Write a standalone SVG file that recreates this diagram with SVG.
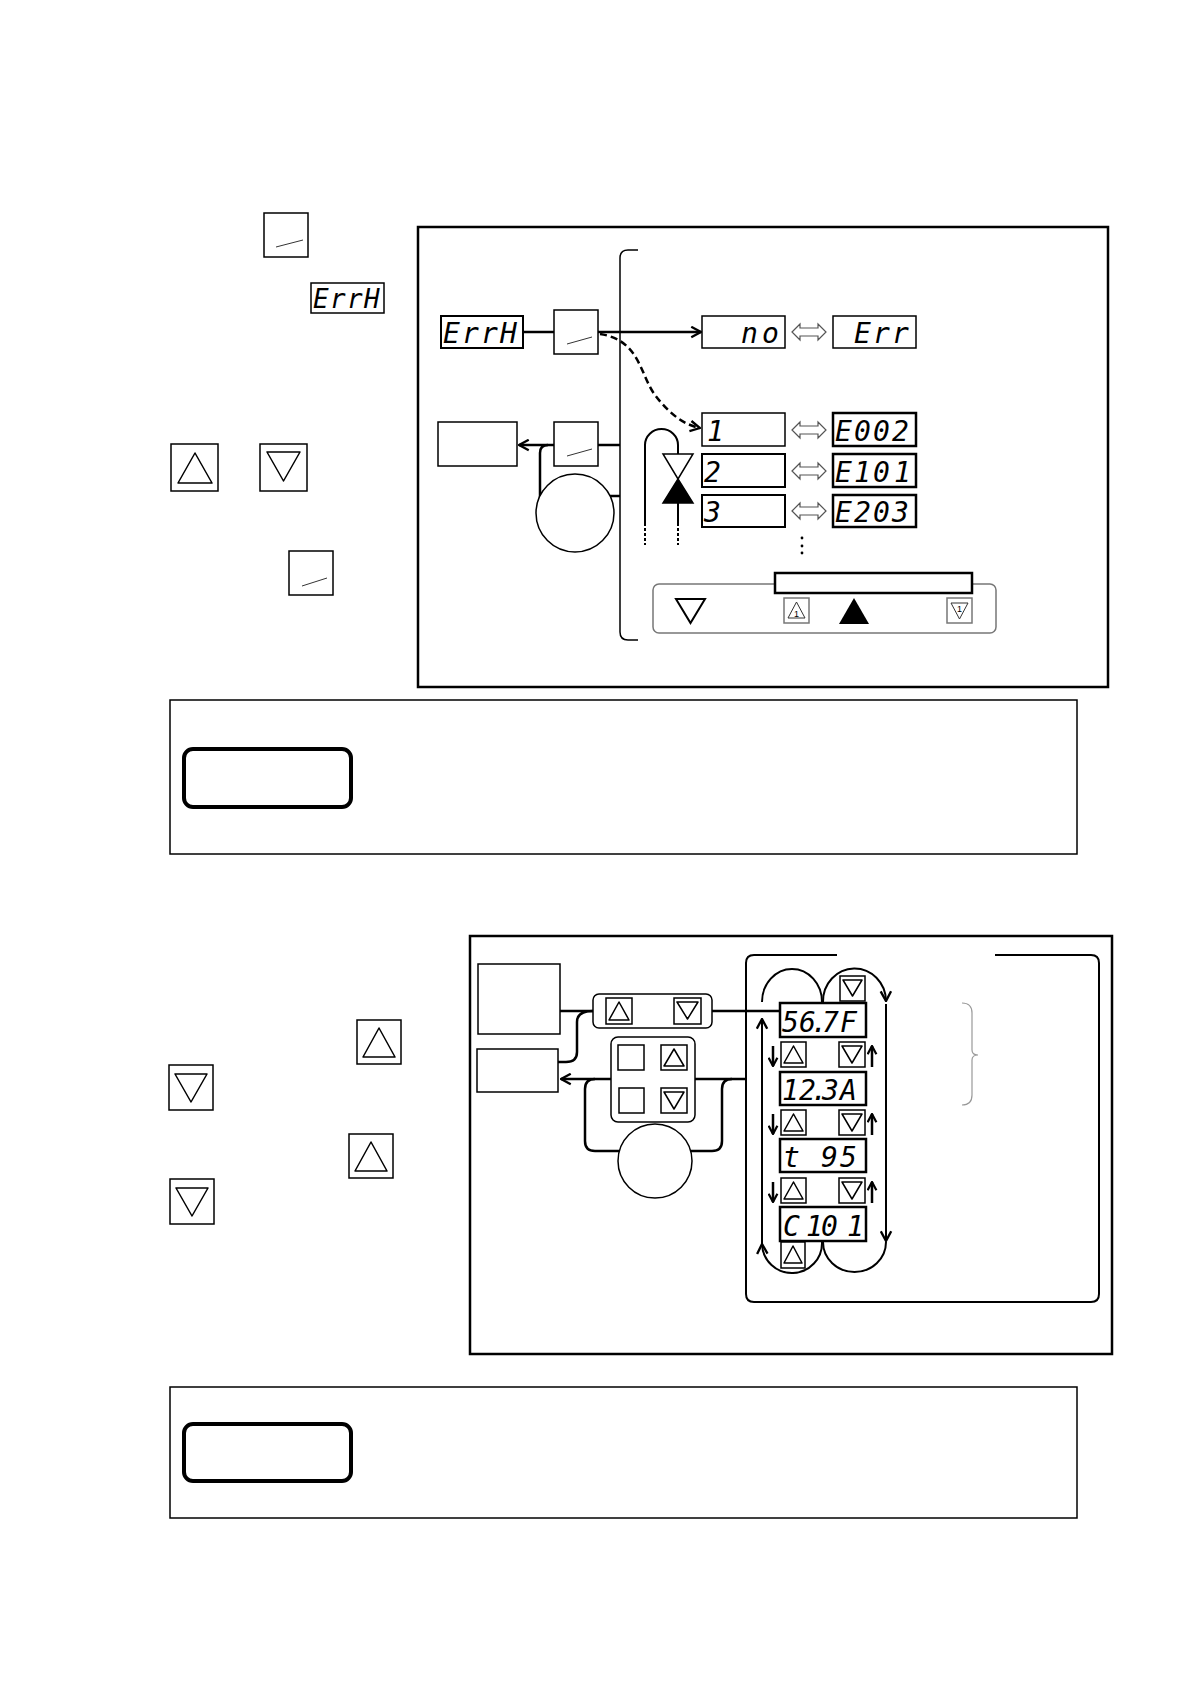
<svg xmlns="http://www.w3.org/2000/svg" width="1190" height="1684" viewBox="0 0 1190 1684">
<style>
.frame{fill:none;stroke:#000;stroke-width:2.5}
.box{fill:#fff;stroke:#000;stroke-width:1.5}
.disp{fill:#fff;stroke:#000;stroke-width:2.5}
.thin{fill:#fff;stroke:#000;stroke-width:1.5}
.gbox{fill:#fff;stroke:#777;stroke-width:1.5}
.ln{fill:none;stroke:#000;stroke-width:2.5}
.ln2{fill:none;stroke:#000;stroke-width:2}
.ln3{fill:none;stroke:#000;stroke-width:2.5}
.tri{fill:#fff;stroke:#000;stroke-width:1.5;stroke-linejoin:round}
.slash{stroke:#000;stroke-width:0.8}
.seg{font-family:"DejaVu Sans Mono","Liberation Mono",monospace;font-style:oblique;font-size:28px;fill:#000}
.note{fill:none;stroke:#000;stroke-width:1.5}
.tag{fill:#fff;stroke:#000;stroke-width:4}
.dbl{fill:#fff;stroke:#555;stroke-width:1.2;stroke-linejoin:miter}
.small{font-family:"Liberation Sans",Arial,sans-serif;font-size:9px;fill:#000}
</style>
<defs>
<marker id="arr" viewBox="0 0 10 10" refX="9" refY="5" markerWidth="13" markerHeight="13" markerUnits="userSpaceOnUse" orient="auto">
<path d="M1.5,1 L9,5 L1.5,9" fill="none" stroke="#000" stroke-width="1.8"/>
</marker>
<marker id="arr2" viewBox="0 0 10 10" refX="9" refY="5" markerWidth="11" markerHeight="11" markerUnits="userSpaceOnUse" orient="auto">
<path d="M1.5,1 L9,5 L1.5,9" fill="none" stroke="#000" stroke-width="2"/>
</marker>
<polygon id="dblarrow" class="dbl" points="0,0 8,-8 8,-4 26,-4 26,-8 34,0 26,8 26,4 8,4 8,8"/>
</defs>
<rect width="1190" height="1684" fill="#fff"/>

<!-- Section 1 left column -->
<g id="s1-key-set-top">
<rect class="box" x="264" y="213" width="44" height="44"/>
<line class="slash" x1="276" y1="247" x2="303" y2="240"/>
</g>
<g id="s1-errh-small">
<rect class="box" x="311" y="283" width="73" height="30"/>
<text class="seg" style="font-size:26px" x="313 330 347 364" y="308">ErrH</text>
</g>
<g id="s1-key-up">
<rect class="box" x="171" y="444" width="47" height="47"/>
<polygon class="tri" points="195,453 212,483 178,483"/>
</g>
<g id="s1-key-down">
<rect class="box" x="260" y="444" width="47" height="47"/>
<polygon class="tri" points="267,452 300,452 283.5,481"/>
</g>
<g id="s1-key-set-bottom">
<rect class="box" x="289" y="551" width="44" height="44"/>
<line class="slash" x1="302" y1="586" x2="327" y2="578"/>
</g>

<!-- Section 1 frame -->
<rect class="frame" x="418" y="227" width="690" height="460"/>

<g id="connectors-s1">
<path class="ln" d="M523 332 L554 332"/>
<path class="ln" d="M598 332 L701 332" marker-end="url(#arr)"/>
<path class="ln" stroke-dasharray="7,4" d="M600 334 C640 340 640 375 655 395 S685 425 700 428" marker-end="url(#arr)"/>
<path class="ln" d="M554 445 L519 445" marker-end="url(#arr)"/>
<path class="ln" d="M548 445 Q540 445 540 453 L540 497"/>
<path class="ln" d="M598 445 L620 445"/>
<path class="ln" d="M609 496 L620 496"/>
<path fill="none" stroke="#000" stroke-width="1.5" d="M638 250 L628 250 Q620 250 620 258 L620 632 Q620 640 628 640 L638 640"/>
<path class="ln2" d="M645 523 L645 445 A16.5 16 0 0 1 678 445 L678 454"/>
<path class="ln2" d="M678 503 L678 523"/>
<path class="ln2" stroke-dasharray="3,2" d="M645 523 L645 545 M678 523 L678 545"/>
</g>

<g id="s1-errh">
<rect x="441" y="316" width="82" height="32" fill="#fff" stroke="#000" stroke-width="2"/>
<text class="seg" x="443 462 481 500" y="343">ErrH</text>
</g>
<g id="s1-key-set">
<rect class="box" x="554" y="310" width="44" height="44"/>
<line class="slash" x1="567" y1="344" x2="592" y2="337"/>
</g>
<g id="s1-box-left">
<rect class="box" x="438" y="422" width="79" height="44"/>
</g>
<g id="s1-key-set2">
<rect class="box" x="554" y="422" width="44" height="44"/>
<line class="slash" x1="567" y1="456" x2="592" y2="449"/>
</g>
<g id="s1-circle">
<circle class="box" cx="575" cy="513" r="39"/>
</g>
<g id="s1-hourglass">
<polygon points="663,454 693,454 678,479" fill="#fff" stroke="#000" stroke-width="1.5"/>
<polygon points="678,479 693,503 663,503" fill="#000" stroke="#000" stroke-width="1.5"/>
</g>

<g id="s1-no">
<rect class="thin" x="702" y="316" width="83" height="32"/>
<text class="seg" x="741 762" y="343">no</text>
</g>
<use href="#dblarrow" x="792" y="332"/>
<g id="s1-err">
<rect class="thin" x="833" y="316" width="83" height="32"/>
<text class="seg" x="854 873 892" y="343">Err</text>
</g>

<g id="s1-row1">
<rect class="thin" x="702" y="413" width="83" height="33"/>
<text class="seg" x="707" y="441">1</text>
</g>
<use href="#dblarrow" x="792" y="430"/>
<g id="s1-e002">
<rect class="disp" x="833" y="413" width="83" height="33"/>
<text class="seg" x="835 854 873 892" y="441">E002</text>
</g>
<g id="s1-row2">
<rect x="702" y="454" width="83" height="33" fill="#fff" stroke="#000" stroke-width="2"/>
<text class="seg" x="704" y="482">2</text>
</g>
<use href="#dblarrow" x="792" y="471"/>
<g id="s1-e101">
<rect class="disp" x="833" y="454" width="83" height="33"/>
<text class="seg" x="835 854 873 894" y="482">E101</text>
</g>
<g id="s1-row3">
<rect x="702" y="495" width="83" height="32" fill="#fff" stroke="#000" stroke-width="2"/>
<text class="seg" x="704" y="522">3</text>
</g>
<use href="#dblarrow" x="792" y="511"/>
<g id="s1-e203">
<rect class="disp" x="833" y="495" width="83" height="32"/>
<text class="seg" x="835 854 873 892" y="522">E203</text>
</g>
<g id="s1-dots" fill="#000">
<circle cx="802" cy="538" r="1.4"/>
<circle cx="802" cy="546" r="1.4"/>
<circle cx="802" cy="553" r="1.4"/>
</g>

<g id="s1-panel">
<rect x="653" y="584" width="343" height="49" rx="6" fill="#fff" stroke="#777" stroke-width="1.5"/>
<rect x="775" y="573" width="197" height="20" fill="#fff" stroke="#000" stroke-width="2.5"/>
<polygon points="676,599 705,599 690.5,623" fill="#fff" stroke="#000" stroke-width="2" stroke-linejoin="miter"/>
<rect class="gbox" x="784" y="598" width="25" height="25"/>
<polygon points="796.5,602 805,618 788,618" fill="#fff" stroke="#333" stroke-width="1"/>
<text class="small" x="796.5" y="616.5" text-anchor="middle">1</text>
<polygon points="854,598 869,624 839,624" fill="#000"/>
<rect class="gbox" x="947" y="598" width="25" height="25"/>
<polygon points="951,603 968,603 959.5,619" fill="#fff" stroke="#333" stroke-width="1"/>
<text class="small" x="959.5" y="612" text-anchor="middle">1</text>
</g>

<!-- Note 1 -->
<g id="note1">
<rect class="note" x="170" y="700" width="907" height="154"/>
<rect class="tag" x="184" y="749" width="167" height="58" rx="9"/>
</g>

<!-- Section 2 left keys -->
<g id="s2-key-up1">
<rect class="box" x="357" y="1020" width="44" height="44"/>
<polygon class="tri" points="379,1028 395,1057 363,1057"/>
</g>
<g id="s2-key-down1">
<rect class="box" x="169" y="1065" width="44" height="45"/>
<polygon class="tri" points="175,1074 207,1074 191,1102"/>
</g>
<g id="s2-key-up2">
<rect class="box" x="349" y="1134" width="44" height="44"/>
<polygon class="tri" points="371,1142 387,1171 355,1171"/>
</g>
<g id="s2-key-down2">
<rect class="box" x="170" y="1179" width="44" height="45"/>
<polygon class="tri" points="176,1188 208,1188 192,1216"/>
</g>

<!-- Section 2 frame -->
<rect class="frame" x="470" y="936" width="642" height="418"/>
<path fill="none" stroke="#000" stroke-width="2" d="M837 955 L754 955 Q746 955 746 963 L746 1294 Q746 1302 754 1302 L1091 1302 Q1099 1302 1099 1294 L1099 963 Q1099 955 1091 955 L995 955"/>
<path id="brace" fill="none" stroke="#999" stroke-width="1.2" d="M962 1003 Q972 1003 972 1013 L972 1050 Q972 1055 978 1055 Q972 1055 972 1060 L972 1095 Q972 1105 962 1105"/>

<g id="connectors-s2">
<path class="ln" d="M560 1011 L593 1011"/>
<path class="ln" d="M712 1011 L780 1011"/>
<path class="ln" d="M593 1011 Q577 1011 577 1022 L577 1052 Q577 1062 566 1062 L558 1062"/>
<path class="ln" d="M611 1079 L561 1079" marker-end="url(#arr)"/>
<path class="ln" d="M595 1079 Q585 1079 585 1089 L585 1141 Q585 1151 595 1151 L620 1151"/>
<path class="ln" d="M695 1079 L747 1079"/>
<path class="ln" d="M690 1151 L712 1151 Q722 1151 722 1141 L722 1089 Q722 1079 732 1079"/>
<path class="ln2" d="M762 1002 A30 33 0 0 1 822 1002"/>
<path class="ln2" d="M823 1002 A31.5 33 0 0 1 886 1001" marker-end="url(#arr)"/>
<path class="ln2" d="M886 1004 L886 1241" marker-end="url(#arr)"/>
<path class="ln2" d="M886 1242 A31.5 30 0 0 1 823 1242"/>
<path class="ln2" d="M822 1242 A30 30 0 0 1 762 1244" marker-end="url(#arr)"/>
<path class="ln2" d="M762 1246 L762 1019" marker-end="url(#arr)"/>
<path class="ln3" d="M773 1046 L773 1066" marker-end="url(#arr2)"/>
<path class="ln3" d="M872 1067 L872 1046" marker-end="url(#arr2)"/>
<path class="ln3" d="M773 1114 L773 1134" marker-end="url(#arr2)"/>
<path class="ln3" d="M872 1135 L872 1114" marker-end="url(#arr2)"/>
<path class="ln3" d="M773 1182 L773 1202" marker-end="url(#arr2)"/>
<path class="ln3" d="M872 1203 L872 1182" marker-end="url(#arr2)"/>
</g>

<g id="s2-box-a"><rect class="box" x="478" y="964" width="82" height="70"/></g>
<g id="s2-box-b"><rect class="box" x="477" y="1049" width="81" height="43"/></g>
<g id="s2-panel1">
<rect class="box" x="593" y="994" width="119" height="34" rx="6"/>
<rect class="box" x="606" y="998" width="26" height="26"/>
<polygon class="tri" points="619,1002 629,1020 609,1020"/>
<rect class="box" x="674" y="998" width="27" height="26"/>
<polygon class="tri" points="677,1002 698,1002 687.5,1019"/>
</g>
<g id="s2-panel2">
<rect class="box" x="611" y="1037" width="84" height="85" rx="7"/>
<rect class="box" x="618" y="1045" width="26" height="25"/>
<rect class="box" x="661" y="1045" width="26" height="25"/>
<polygon class="tri" points="674,1049 684,1066 664,1066"/>
<rect class="box" x="619" y="1088" width="25" height="25"/>
<rect class="box" x="661" y="1088" width="26" height="25"/>
<polygon class="tri" points="664,1092 684,1092 674,1109"/>
</g>
<g id="s2-circle"><circle class="box" cx="655" cy="1161" r="37"/></g>

<g id="s2-top-down">
<rect class="box" x="840" y="976" width="25" height="25"/>
<polygon class="tri" points="843,980 862,980 852.5,996"/>
</g>
<g id="s2-d1">
<rect class="disp" x="780" y="1003" width="86" height="34"/>
<text class="seg" x="782 799 811 822 840" y="1032">56.7F</text>
</g>
<g id="s2-k1">
<rect class="box" x="781" y="1042" width="25" height="25"/>
<polygon class="tri" points="793.5,1046 803,1063 784,1063"/>
<rect class="box" x="839" y="1042" width="26" height="25"/>
<polygon class="tri" points="842,1046 862,1046 852,1063"/>
</g>
<g id="s2-d2">
<rect class="disp" x="780" y="1072" width="86" height="33"/>
<text class="seg" x="782 799 811 822 840" y="1100">12.3A</text>
</g>
<g id="s2-k2">
<rect class="box" x="781" y="1110" width="25" height="25"/>
<polygon class="tri" points="793.5,1114 803,1131 784,1131"/>
<rect class="box" x="839" y="1110" width="26" height="25"/>
<polygon class="tri" points="842,1114 862,1114 852,1131"/>
</g>
<g id="s2-d3">
<rect class="disp" x="780" y="1139" width="86" height="33"/>
<text class="seg" x="783 802 821 840" y="1167">t 95</text>
</g>
<g id="s2-k3">
<rect class="box" x="781" y="1178" width="25" height="25"/>
<polygon class="tri" points="793.5,1182 803,1199 784,1199"/>
<rect class="box" x="839" y="1178" width="26" height="25"/>
<polygon class="tri" points="842,1182 862,1182 852,1199"/>
</g>
<g id="s2-d4">
<rect class="disp" x="780" y="1207" width="86" height="34"/>
<text class="seg" x="783 806 821 847" y="1236">C101</text>
</g>
<g id="s2-bottom-up">
<rect class="box" x="781" y="1242" width="24" height="26"/>
<polygon class="tri" points="793,1246 802,1263 784,1263"/>
</g>

<!-- Note 2 -->
<g id="note2">
<rect class="note" x="170" y="1387" width="907" height="131"/>
<rect class="tag" x="184" y="1424" width="167" height="57" rx="9"/>
</g>
</svg>
